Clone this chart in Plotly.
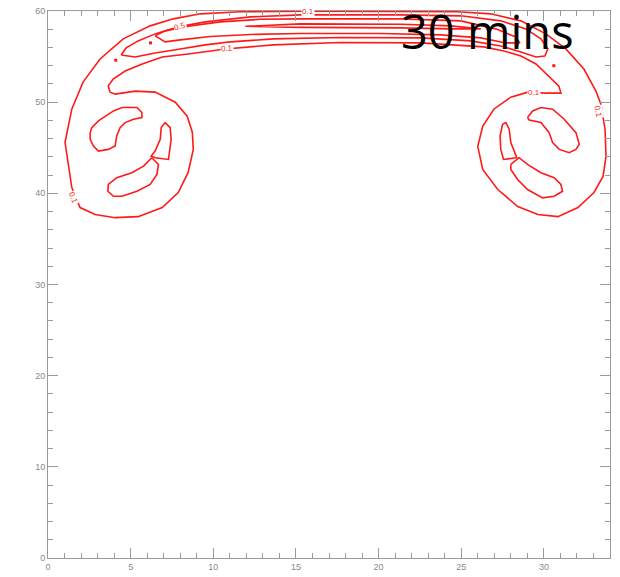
import plotly.graph_objects as go

# ---- contour lines (data units) ----
# level 0.1 : one closed loop (outer arc, left ring, inner channel, right ring)
c01_x = [1.44, 1.03, 1.44, 2.12, 3.15, 4.55, 6.18, 7.58, 9.21, 11.64, 15.27, 21.33, 24.79, 26.79,
         28.61, 30.12, 31.33, 32.42, 33.15, 33.45, 33.70, 33.76, 33.58, 33.03, 32.06, 30.85, 29.64,
         28.42, 27.21, 26.30, 26.00, 26.30, 26.97, 28.00, 29.03, 30.12, 31.03, 30.91, 30.30, 29.52,
         28.61, 27.58, 26.36, 24.36, 22.55, 17.70, 13.64, 10.73, 9.52, 8.48, 6.91, 5.70, 4.67, 3.94,
         3.64, 3.76, 4.06, 5.27, 6.48, 7.70, 8.42, 8.73, 8.79, 8.48, 7.88, 6.91, 5.45, 4.06, 2.85, 1.94, 1.44]
c01_y = [40.64, 45.59, 49.23, 52.20, 54.74, 56.94, 58.37, 59.14, 59.69, 59.91, 59.97, 59.97, 59.91, 59.69,
         58.92, 57.49, 55.84, 53.63, 51.21, 49.78, 47.03, 44.05, 41.85, 40.09, 38.44, 37.44, 37.67,
         38.55, 40.42, 42.62, 45.15, 47.36, 49.23, 50.55, 51.10, 50.99, 50.99, 51.76, 52.86, 54.19,
         55.07, 55.62, 56.06, 56.28, 56.50, 56.55, 56.28, 55.84, 55.51, 55.29, 54.96, 54.19, 53.41, 52.53,
         51.76, 51.10, 50.88, 51.21, 51.10, 50.00, 48.46, 46.70, 44.82, 42.29, 40.09, 38.44, 37.44, 37.33, 37.67, 38.44, 40.64]

# level 0.5 : long band along the top
c05_x = [4.42, 4.73, 5.45, 6.48, 7.88, 9.52, 12.24, 15.27, 21.33, 24.97, 27.39, 28.91, 29.82, 30.24,
         30.06, 29.52, 28.61, 27.39, 25.58, 22.55, 17.70, 13.64, 11.03, 9.52, 8.00, 6.48, 5.27, 4.42]
c05_y = [55.18, 55.95, 56.72, 57.49, 58.26, 58.81, 59.36, 59.58, 59.58, 59.47, 58.92, 58.04, 56.94, 55.84,
         55.07, 54.96, 55.51, 56.17, 56.72, 57.05, 57.10, 56.94, 56.61, 56.28, 55.84, 55.40, 54.96, 55.18]

# level 1
c1_x = [6.48, 7.09, 8.61, 10.42, 12.85, 15.27, 21.33, 24.97, 27.09, 28.30, 28.55,
        27.70, 26.18, 23.76, 20.12, 15.27, 12.24, 9.82, 8.00, 7.09, 6.48]
c1_y = [57.27, 57.82, 58.37, 58.81, 59.09, 59.14, 59.14, 58.92, 58.04, 57.16, 56.50,
        56.50, 57.05, 57.38, 57.54, 57.54, 57.43, 57.21, 56.83, 56.61, 57.27]

# innermost level
c2_x = [11.94, 15.27, 21.33, 24.36, 26.18, 24.36, 21.33, 15.27, 11.94]
c2_y = [58.32, 58.59, 58.54, 58.37, 58.04, 58.04, 58.15, 58.20, 58.32]

# closed cells inside the left ring
blobA_x = [2.55, 2.65, 3.05, 3.96, 4.47, 5.38, 5.68, 5.68, 5.17, 4.67, 4.36, 4.16, 4.06, 3.65, 3.05, 2.75, 2.55, 2.55]
blobA_y = [46.66, 47.21, 47.94, 49.04, 49.42, 49.42, 48.87, 48.31, 48.13, 47.76, 47.21, 46.29, 45.19, 44.82, 44.64, 45.19, 45.93, 46.66]
blobB_x = [7.09, 7.39, 7.45, 7.29, 6.48, 6.24, 6.48, 6.79, 6.85, 7.09]
blobB_y = [47.76, 47.21, 45.93, 43.72, 43.91, 44.09, 44.64, 45.93, 47.21, 47.76]
blobC_x = [6.28, 6.68, 6.59, 6.18, 5.38, 4.47, 3.96, 3.62, 3.65, 4.16, 5.07, 5.78, 6.28]
blobC_y = [43.91, 43.17, 42.07, 40.97, 40.23, 39.68, 39.68, 40.23, 40.97, 41.71, 42.26, 42.98, 43.91]

# closed cells inside the right ring
blobD_x = [29.01, 29.32, 29.82, 30.53, 31.23, 31.94, 32.14, 31.94, 31.53, 30.93, 30.53, 30.32, 29.82, 29.11, 29.01]
blobD_y = [48.31, 49.04, 49.42, 49.23, 48.13, 46.66, 45.37, 44.82, 44.46, 44.82, 45.56, 46.66, 47.76, 48.05, 48.31]
blobE_x = [27.50, 27.70, 27.90, 28.00, 28.36, 27.56, 27.39, 27.35, 27.50]
blobE_y = [47.58, 47.76, 47.03, 45.56, 43.91, 43.72, 44.82, 46.29, 47.58]
blobF_x = [28.00, 28.50, 29.01, 29.82, 30.62, 31.03, 31.13, 30.62, 29.92, 29.01, 28.41, 28.00, 28.00]
blobF_y = [43.17, 43.91, 43.17, 42.26, 41.71, 40.97, 40.23, 39.68, 39.50, 40.42, 41.52, 42.62, 43.17]

# contour labels
label_text = ["0.1", "0.1", "0.5", "0.1", "0.1", "0.1"]
label_x = [15.7, 10.8, 8.0, 1.5, 29.4, 33.3]
label_y = [59.9, 55.9, 58.3, 39.5, 51.1, 48.9]
label_angle = [0, -4, -14, 68, 0, 80]

# tiny (illegible) level labels that render as dots
dot_x = [6.2, 4.1, 30.6, 28.4]
dot_y = [56.5, 54.6, 54.0, 56.4]

title_text = "30 mins"

# x / y axes
x_range = [0, 34]
y_range = [0, 60]

RED = "#ff1a1a"
fig = go.Figure()
for xs, ys in [(c01_x, c01_y), (c05_x, c05_y), (c1_x, c1_y), (c2_x, c2_y),
               (blobA_x, blobA_y), (blobB_x, blobB_y), (blobC_x, blobC_y),
               (blobD_x, blobD_y), (blobE_x, blobE_y), (blobF_x, blobF_y)]:
    fig.add_trace(go.Scatter(x=xs, y=ys, mode="lines",
                             line=dict(color=RED, width=1.6),
                             hoverinfo="skip", showlegend=False))

fig.add_trace(go.Scatter(x=dot_x, y=dot_y, mode="markers",
                         marker=dict(color=RED, size=3, symbol="square"),
                         hoverinfo="skip", showlegend=False))

for t, lx, ly, a in zip(label_text, label_x, label_y, label_angle):
    fig.add_annotation(x=lx, y=ly, text=t, showarrow=False, textangle=a,
                       font=dict(size=8, color=RED, family="Liberation Sans"),
                       bgcolor="white", borderpad=0)

fig.add_annotation(x=26.6, y=57.8, text=title_text, showarrow=False,
                   font=dict(size=47, color="black", family="Open Sans"))

axis_common = dict(showline=True, linecolor="#9a9a9a", linewidth=1, mirror="allticks",
                   ticks="inside", ticklen=10, tickcolor="#9a9a9a", tickwidth=1,
                   showgrid=False, zeroline=False, automargin=False,
                   tickfont=dict(size=9, color="#8a8a8a", family="Liberation Sans"))
fig.update_xaxes(range=x_range, dtick=5, tick0=0,
                 minor=dict(dtick=1, ticklen=5, ticks="inside", tickcolor="#9a9a9a", showgrid=False),
                 **axis_common)
fig.update_yaxes(range=y_range, dtick=10, tick0=0,
                 minor=dict(dtick=2, ticklen=5, ticks="inside", tickcolor="#9a9a9a", showgrid=False),
                 **axis_common)

fig.update_layout(width=620, height=577, margin=dict(l=48, r=10, t=11, b=19),
                  plot_bgcolor="white", paper_bgcolor="white")
fig.write_html("out.html", config={"displayModeBar": False},
               post_script="document.body.style.margin='0';document.body.style.padding='0';")
